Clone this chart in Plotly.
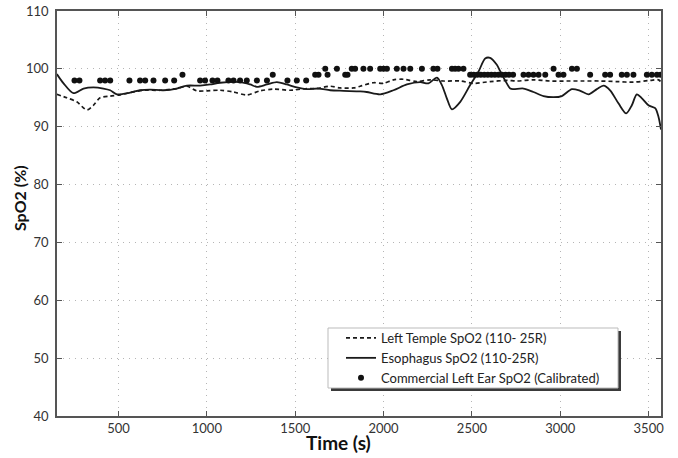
import plotly.graph_objects as go

# ---- data ----
temple_t = [151, 208, 264, 321, 358, 396, 453, 509, 566, 641, 736, 830, 887, 943, 1000,
            1075, 1151, 1226, 1302, 1377, 1471, 1566, 1622, 1698, 1754, 1830, 1868, 1943,
            2000, 2056, 2113, 2188, 2264, 2339, 2434, 2509, 2603, 2698, 2754, 2848, 2943,
            3037, 3131, 3226, 3320, 3414, 3509, 3556, 3570]
temple_v = [95.6, 95.0, 94.3, 92.9, 93.7, 95.0, 95.3, 95.5, 95.9, 96.3, 96.3, 96.6, 97.0, 96.2, 96.2,
            96.3, 96.0, 95.5, 96.2, 96.5, 96.3, 96.6, 96.6, 97.0, 96.7, 96.7, 97.0, 97.6,
            97.5, 98.1, 98.2, 97.8, 98.1, 97.9, 97.9, 97.5, 97.8, 98.0, 97.9, 98.1, 97.9,
            97.9, 97.9, 97.9, 97.8, 97.7, 98.0, 98.1, 97.7]

eso_t = [151, 189, 245, 302, 358, 415, 453, 491, 566, 622, 679, 754, 830, 887, 962, 1019,
         1075, 1188, 1245, 1283, 1340, 1396, 1453, 1509, 1566, 1632, 1698, 1773, 1868, 1905,
         1981, 2056, 2132, 2207, 2254, 2302, 2330, 2358, 2387, 2434, 2490, 2537, 2575, 2603,
         2641, 2660, 2688, 2717, 2735, 2792, 2848, 2905, 2962, 3009, 3066, 3113, 3160, 3207,
         3245, 3282, 3330, 3373, 3405, 3433, 3462, 3499, 3537, 3555, 3570]
eso_v = [99.1, 97.5, 95.8, 96.6, 96.8, 96.6, 96.3, 95.6, 95.9, 96.3, 96.4, 96.3, 96.6, 97.1, 97.1, 97.3,
         97.6, 97.7, 97.3, 96.9, 97.3, 97.7, 97.3, 96.8, 96.5, 96.6, 96.3, 96.2, 96.1, 96.0,
         95.6, 96.3, 97.3, 97.7, 97.5, 98.5, 97.2, 94.9, 93.0, 94.3, 97.2, 99.5, 101.8, 101.9,
         100.7, 99.6, 98.0, 96.6, 96.5, 96.6, 96.0, 95.3, 95.1, 95.3, 96.5, 96.2, 95.6, 96.5,
         97.1, 96.3, 94.0, 92.3, 93.7, 95.6, 94.9, 93.7, 93.2, 91.8, 89.5]

ear_t = [251, 279, 396, 424, 453, 562, 622, 651, 698, 764, 815, 862, 962, 990,
         1032, 1060, 1122, 1151, 1188, 1226, 1283, 1340, 1373, 1456, 1509, 1562, 1613, 1632,
         1670, 1683, 1736, 1783, 1796, 1820, 1839,
         1886, 1924, 1981, 2000, 2019, 2075, 2113, 2151, 2217, 2282, 2305, 2387, 2405, 2424, 2452,
         2490, 2510, 2530, 2550, 2570, 2590, 2610, 2630, 2650, 2670, 2690, 2710, 2733,
         2792, 2820, 2848, 2877, 2915, 2962, 2990, 3018, 3066, 3094, 3169, 3254, 3282,
         3348, 3377, 3414, 3490, 3518, 3547, 3568]
ear_v = [98, 98, 98, 98, 98, 98, 98, 98, 98, 98, 98, 99, 98, 98,
         98, 98, 98, 98, 98, 98, 98, 98, 99, 98, 98, 98, 99, 99,
         100, 99, 100, 99, 99, 100, 100,
         100, 100, 100, 100, 100, 100, 100, 100, 100, 100, 100, 100, 100, 100, 100,
         99, 99, 99, 99, 99, 99, 99, 99, 99, 99, 99, 99, 99,
         99, 99, 99, 99, 99, 100, 99, 99, 100, 100, 99, 99, 99,
         99, 99, 99, 99, 99, 99, 99]

x_ticks = [500, 1000, 1500, 2000, 2500, 3000, 3500]
y_ticks = [40, 50, 60, 70, 80, 90, 100, 110]

FONT = "Lato"

fig = go.Figure()
fig.add_trace(go.Scatter(x=temple_t, y=temple_v, mode="lines",
                         name="Left Temple SpO2 (110- 25R)",
                         line=dict(color="#1a1a1a", width=1.7, dash="4px,3px", shape="spline", smoothing=0.8)))
fig.add_trace(go.Scatter(x=eso_t, y=eso_v, mode="lines",
                         name="Esophagus SpO2 (110-25R)",
                         line=dict(color="#1a1a1a", width=1.8, shape="spline", smoothing=0.8)))
fig.add_trace(go.Scatter(x=ear_t, y=ear_v, mode="markers",
                         name="Commercial Left Ear SpO2 (Calibrated)",
                         marker=dict(color="#111111", size=6)))

W, H = 678, 458
ml, mr, mt, mb = 57, 17, 11, 42
pw, ph = W - ml - mr, H - mt - mb

def px(x):
    return (x - ml) / pw

def py(y):
    return (H - mb - y) / ph

axis_common = dict(showline=True, linecolor="#555555", linewidth=1.5, mirror="ticks",
                   ticks="inside", ticklen=5, tickcolor="#555555", automargin=False,
                   showgrid=True, gridcolor="#b5b5b5", gridwidth=1, griddash="1px,5px",
                   zeroline=False, tickfont=dict(family=FONT, size=13, color="#333333"))

fig.update_xaxes(range=[152, 3570], tickvals=x_ticks, **axis_common)
fig.update_yaxes(range=[40, 110], tickvals=y_ticks, ticklabelstandoff=4, **axis_common)

# legend box + shadow
fig.add_shape(type="rect", xref="paper", yref="paper", layer="above",
              x0=px(331), x1=px(621), y0=py(391), y1=py(331),
              fillcolor="#3a3a3a", line=dict(width=0))
fig.add_shape(type="rect", xref="paper", yref="paper", layer="above",
              x0=px(328), x1=px(618), y0=py(388), y1=py(328),
              fillcolor="white", line=dict(color="#bbbbbb", width=1))

fig.update_layout(
    width=W, height=H,
    margin=dict(l=ml, r=mr, t=mt, b=mb, autoexpand=False),
    paper_bgcolor="white", plot_bgcolor="white",
    font=dict(family=FONT, color="#222222"),
    showlegend=True,
    legend=dict(x=px(341), y=py(358), xanchor="left", yanchor="middle",
                bgcolor="rgba(0,0,0,0)", borderwidth=0,
                font=dict(family=FONT, size=13, color="#222222"),
                tracegroupgap=0, itemwidth=30),
    annotations=[
        dict(text="<b>SpO2 (%)</b>", textangle=-90, xref="paper", yref="paper",
             x=px(20), y=py(198), showarrow=False, xanchor="center", yanchor="middle",
             font=dict(family=FONT, size=16, color="#111111")),
        dict(text="<b>Time (s)</b>", xref="paper", yref="paper",
             x=px(338), y=py(442), showarrow=False, xanchor="center", yanchor="middle",
             font=dict(family=FONT, size=19, color="#111111")),
    ],
)

fig.write_html("out.html", config={"displayModeBar": False},
               post_script="document.body.style.margin='0';document.body.style.padding='0';")
